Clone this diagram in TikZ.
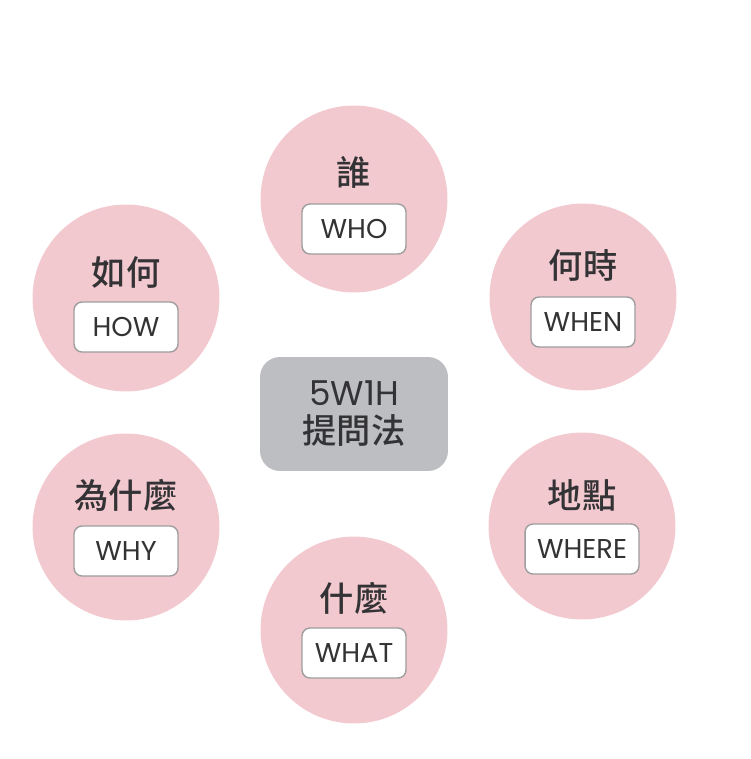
\documentclass[tikz,border=0pt]{standalone}
\usepackage{fontspec}
\setmainfont{Poppins}
\newfontfamily\cjk{Noto Sans CJK TC}[UprightFont={* Medium}]
\definecolor{pinkfill}{HTML}{F3C9D0}
\definecolor{hubfill}{HTML}{BDBEC2}
\definecolor{inkgray}{HTML}{333335}
\tikzset{
    circ/.style={circle, fill=pinkfill, minimum size=3.74cm, inner sep=0pt},
    tag/.style={rectangle, rounded corners=0.16cm, draw=black!38, line width=0.8pt, fill=white,
        minimum width=2.08cm, minimum height=1cm, inner xsep=0.24cm, font=\fontsize{15.5}{18}\selectfont, text=inkgray},
    zh/.style={font=\cjk\fontsize{19.5}{22}\selectfont, text=inkgray},
    hub/.style={rectangle, rounded corners=0.4cm, fill=hubfill, minimum width=3.76cm, minimum height=2.28cm,
        align=center, text=inkgray, font=\fontsize{19.5}{21.6}\selectfont}
}
\begin{document}
\begin{tikzpicture}[x=0.02cm, y=-0.02cm]
                \useasboundingbox (0,0) rectangle (750,759);
                \node[hub] (hub) at (354,414) {5W1H\\{\cjk 提問法}};
                \foreach \nm/\x/\y/\ty/\by/\zhtext/\en in {who/354/199/172/229/誰/WHO, when/583/297/265/322/何時/WHEN,
                    where/582/526/495/549/地點/WHERE, what/354/630/598/653/什麼/WHAT,
                    why/126/527/495/551/為什麼/WHY, how/126/298/272/327/如何/HOW}{
                    \node[circ] (\nm) at (\x,\y) {};
                    \node[zh] (\nm-zh) at (\x,\ty) {\zhtext};
                    \node[tag] (\nm-tag) at (\x,\by) {\en};
                }
            \end{tikzpicture}
\end{document}
